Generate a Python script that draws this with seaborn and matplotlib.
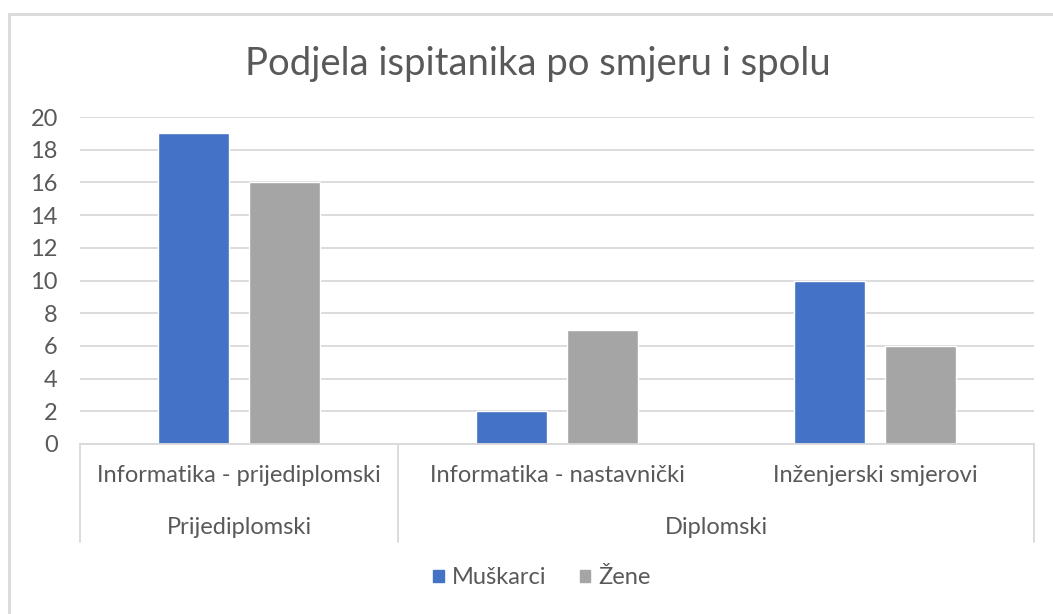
import pandas as pd
import matplotlib.pyplot as plt
import matplotlib.patches as mpatches
import matplotlib.transforms as mtransforms
import seaborn as sns

# Data
smjerovi = ['Informatika - prijediplomski', 'Informatika - nastavnički', 'Inženjerski smjerovi']
razine = ['Prijediplomski', 'Diplomski']
razina_centar = [0, 1.5]
muskarci = [19, 2, 10]
zene = [16, 7, 6]
spolovi = ['Muškarci', 'Žene']
boje = ['#4472C4', '#A5A5A5']

df = pd.DataFrame({
    'Smjer': smjerovi * 2,
    'Broj': muskarci + zene,
    'Spol': [spolovi[0]] * 3 + [spolovi[1]] * 3,
})

sns.set_theme(style='white')
plt.rcParams['font.family'] = ['Lato', 'DejaVu Sans']
text_col = '#595959'
grid_col = '#D9D9D9'
fs = 17

W, H = 1053, 614
fig = plt.figure(figsize=(W / 100, H / 100), dpi=100)
ax = fig.add_axes([80 / W, 1 - 444 / H, (1034 - 80) / W, (444 - 117) / H])

sns.barplot(data=df, x='Smjer', y='Broj', hue='Spol', palette=boje,
            width=0.57, gap=0.22, ax=ax, legend=False, saturation=1)

ax.set_ylim(0, 20)
ax.set_xlim(-0.5, 2.5)
ax.set_yticks(range(0, 21, 2))
ax.yaxis.grid(True, color=grid_col, linewidth=1.3)
ax.set_axisbelow(True)
for s in ['top', 'right', 'left']:
    ax.spines[s].set_visible(False)
ax.spines['bottom'].set_color(grid_col)
ax.spines['bottom'].set_linewidth(1.3)
ax.tick_params(axis='y', length=0, labelsize=fs, labelcolor=text_col, pad=16)
ax.set_xticks([])
ax.set_xlabel('')
ax.set_ylabel('')

# multi-level category axis
trans = mtransforms.blended_transform_factory(ax.transData, ax.transAxes)
sep_bottom = (444 - 542) / (444 - 117)
for xs in [-0.5, 0.5, 2.5]:
    ax.plot([xs, xs], [0, sep_bottom], transform=trans, color=grid_col,
            linewidth=1.3, clip_on=False)
for i, s in enumerate(smjerovi):
    ax.text(i, (444 - 476) / 327, s, transform=trans, ha='center', va='center',
            fontsize=fs, color=text_col)
for c, r in zip(razina_centar, razine):
    ax.text(c, (444 - 527) / 327, r, transform=trans, ha='center', va='center',
            fontsize=fs, color=text_col)

fig.text(538 / W, 1 - 64 / H, 'Podjela ispitanika po smjeru i spolu',
         ha='center', va='center', fontsize=27.5, color=text_col)

handles = [mpatches.Patch(color=b, label=l) for b, l in zip(boje, spolovi)]
fig.legend(handles=handles, loc='center', bbox_to_anchor=(542 / W, 1 - 578 / H),
           ncol=2, frameon=False, fontsize=fs, labelcolor=text_col,
           handlelength=0.45, handleheight=0.45, handletextpad=0.35, columnspacing=1.4)

# chart area border (left and top visible)
fig.add_artist(mpatches.Rectangle((9 / W, -0.05), 1.2, 1.05 - 14 / H,
                                  transform=fig.transFigure, fill=False,
                                  edgecolor=grid_col, linewidth=2))

fig.savefig('out.png', dpi=100, facecolor='white')
